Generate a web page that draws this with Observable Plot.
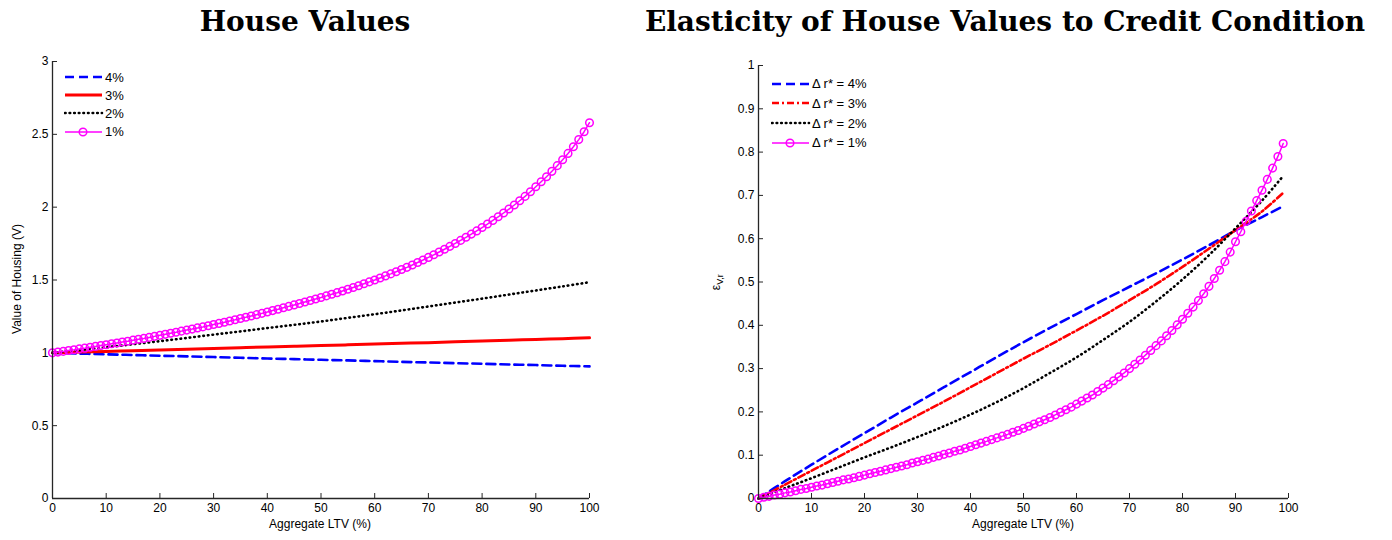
<!DOCTYPE html>
<html><head><meta charset="utf-8">
<script src="https://cdn.jsdelivr.net/npm/d3@7"></script>
<script src="https://cdn.jsdelivr.net/npm/@observablehq/plot@0.6"></script>
<style>
body{margin:0;background:#fff;width:1392px;height:540px;position:relative;overflow:hidden;font-family:"Liberation Sans",Arial,sans-serif;color:#000;}
.title{position:absolute;top:5px;font-family:"DejaVu Serif",serif;font-weight:bold;font-size:28px;white-space:nowrap;transform:translateX(-50%);}
.panel{position:absolute;top:45px;}
.lrow{position:absolute;display:flex;align-items:center;font-size:13px;white-space:nowrap;height:18px;}
.lrow svg{display:block;}
.xlab{position:absolute;top:517px;font-size:12px;transform:translateX(-50%);white-space:nowrap;}
.ylab{position:absolute;font-size:12px;white-space:nowrap;text-align:center;width:200px;transform:rotate(-90deg);}
</style>
</head><body>
<div id="root"></div>
<script>
// ---------- data ----------
const ltv5L = [0,5,10,15,20,25,30,35,40,45,50,55,60,65,70,75,80,85,90,95,100];
const ltv5R = [0,5,10,15,20,25,30,35,40,45,50,55,60,65,70,75,80,85,90,95,99];
const ltv1 = [0,1,2,3,4,5,6,7,8,9,10,11,12,13,14,15,16,17,18,19,20,21,22,23,24,25,26,27,28,29,30,31,32,33,34,35,36,37,38,39,40,41,42,43,44,45,46,47,48,49,50,51,52,53,54,55,56,57,58,59,60,61,62,63,64,65,66,67,68,69,70,71,72,73,74,75,76,77,78,79,80,81,82,83,84,85,86,87,88,89,90,91,92,93,94,95,96,97,98,99,100];

// House values (left panel)
const houseV4 = [1.000,0.995,0.990,0.985,0.980,0.976,0.971,0.966,0.961,0.957,0.952,0.948,0.943,0.938,0.934,0.929,0.925,0.920,0.916,0.911,0.907];
const houseV3 = [1.000,1.005,1.010,1.015,1.020,1.025,1.030,1.035,1.040,1.045,1.050,1.055,1.060,1.065,1.070,1.076,1.081,1.086,1.092,1.097,1.103];
const houseV2 = [1.000,1.019,1.038,1.059,1.080,1.102,1.125,1.147,1.170,1.192,1.215,1.240,1.265,1.291,1.318,1.345,1.372,1.400,1.428,1.456,1.485];
const houseV1 = [1.000,1.005,1.010,1.016,1.021,1.027,1.032,1.038,1.044,1.050,
1.056,1.062,1.068,1.074,1.080,1.087,1.093,1.099,1.106,1.113,
1.120,1.127,1.134,1.141,1.149,1.156,1.163,1.171,1.178,1.186,
1.194,1.202,1.210,1.219,1.227,1.236,1.244,1.253,1.262,1.271,
1.280,1.290,1.299,1.309,1.319,1.329,1.339,1.349,1.359,1.370,
1.380,1.391,1.402,1.413,1.425,1.437,1.449,1.461,1.474,1.487,
1.500,1.514,1.528,1.542,1.557,1.572,1.587,1.603,1.620,1.637,
1.655,1.673,1.692,1.711,1.731,1.751,1.772,1.793,1.815,1.837,
1.860,1.884,1.909,1.934,1.960,1.987,2.015,2.044,2.074,2.106,
2.140,2.174,2.209,2.246,2.285,2.326,2.369,2.415,2.464,2.518,
2.580];

// Elasticity (right panel)
const elast4 = [0,0.040,0.078,0.115,0.151,0.187,0.222,0.257,0.292,0.327,0.361,0.394,0.426,0.458,0.489,0.520,0.552,0.585,0.619,0.650,0.675];
const elast3 = [0,0.032,0.064,0.096,0.128,0.160,0.192,0.224,0.257,0.290,0.323,0.355,0.388,0.422,0.458,0.495,0.535,0.577,0.620,0.663,0.706];
const elast2 = [0,0.024,0.047,0.071,0.095,0.118,0.142,0.167,0.194,0.223,0.255,0.290,0.326,0.366,0.408,0.455,0.506,0.562,0.624,0.688,0.745];
const elast1 = [0.000,0.003,0.005,0.008,0.010,0.013,0.015,0.018,0.021,0.023,
0.026,0.029,0.031,0.034,0.037,0.040,0.043,0.045,0.048,0.051,
0.054,0.057,0.060,0.063,0.066,0.069,0.072,0.075,0.078,0.082,
0.085,0.088,0.091,0.095,0.098,0.102,0.105,0.109,0.112,0.116,
0.120,0.124,0.128,0.132,0.136,0.140,0.144,0.148,0.153,0.157,
0.162,0.167,0.172,0.177,0.182,0.187,0.193,0.199,0.205,0.211,
0.218,0.225,0.232,0.239,0.247,0.255,0.263,0.272,0.281,0.290,
0.300,0.310,0.320,0.331,0.342,0.353,0.364,0.376,0.388,0.401,
0.414,0.428,0.442,0.457,0.473,0.490,0.508,0.527,0.547,0.569,
0.593,0.616,0.640,0.664,0.688,0.712,0.737,0.763,0.790,0.820];

const xTicks = [0,10,20,30,40,50,60,70,80,90,100];
const yTicksL = [0,0.5,1,1.5,2,2.5,3];
const yTicksR = [0,0.1,0.2,0.3,0.4,0.5,0.6,0.7,0.8,0.9,1];

const titles = ["House Values", "Elasticity of House Values to Credit Condition"];
const xLabel = "Aggregate LTV (%)";
const yLabelL = "Value of Housing (V)";
const legendL = ["4%", "3%", "2%", "1%"];
const legendR = ["\u0394 r* = 4%", "\u0394 r* = 3%", "\u0394 r* = 2%", "\u0394 r* = 1%"];

// ---------- styles ----------
const sBlue = {stroke: "#0000ff", strokeWidth: 2.6, strokeDasharray: "9,5"};
const sRedSolid = {stroke: "#ff0000", strokeWidth: 3};
const sRedDashDot = {stroke: "#ff0000", strokeWidth: 2.6, strokeDasharray: "7,3,2,3"};
const sBlack = {stroke: "#000000", strokeWidth: 2.6, strokeDasharray: "0.6,4", strokeLinecap: "round"};
const sMag = {stroke: "#ff00ff", strokeWidth: 1.5};

const rows = (xs, ys) => xs.map((x, i) => ({x, y: ys[i]}));
const root = document.getElementById("root");
const fmt = d => String(d);
const axisColor = "#262626";

function panel({left, width, mL, mR, mT, mB, yDomain, yTicks, series}) {
  const H = 495;
  const frameH = H - mT - mB;
  const frameW = width - mL - mR;
  const p = Plot.plot({
    width, height: H, marginLeft: mL, marginRight: mR, marginTop: mT, marginBottom: mB,
    style: {fontFamily: "Liberation Sans, Arial, sans-serif", fontSize: "12px", color: "#000", background: "transparent", overflow: "visible"},
    x: {domain: [0, 100], ticks: xTicks, tickSize: 0, tickPadding: 5, tickFormat: fmt, label: null},
    y: {domain: yDomain, ticks: yTicks, tickSize: 0, tickPadding: 4, tickFormat: fmt, label: null},
    marks: [
      Plot.tickX(xTicks, {x: d => d, insetTop: frameH - 5, stroke: axisColor, strokeWidth: 1}),
      Plot.tickY(yTicks, {y: d => d, insetRight: frameW - 5, stroke: axisColor, strokeWidth: 1}),
      ...series,
      Plot.ruleX([0], {stroke: axisColor, strokeWidth: 1.3}),
      Plot.ruleY([yDomain[0]], {stroke: axisColor, strokeWidth: 1.3})
    ]
  });
  const d = document.createElement("div");
  d.className = "panel";
  d.style.left = left + "px";
  d.appendChild(p);
  root.appendChild(d);
}

const magL = rows(ltv1, houseV1);
panel({
  left: 0, width: 620, mL: 52, mR: 31, mT: 16, mB: 42, yDomain: [0, 3], yTicks: yTicksL,
  series: [
    Plot.line(rows(ltv5L, houseV4), {x: "x", y: "y", curve: "catmull-rom", ...sBlue}),
    Plot.line(rows(ltv5L, houseV3), {x: "x", y: "y", curve: "catmull-rom", ...sRedSolid}),
    Plot.line(rows(ltv5L, houseV2), {x: "x", y: "y", curve: "catmull-rom", ...sBlack}),
    Plot.line(magL, {x: "x", y: "y", ...sMag}),
    Plot.dot(magL, {x: "x", y: "y", r: 3.8, fill: "none", ...sMag})
  ]
});

const magR = rows(ltv1.slice(0, elast1.length), elast1);
panel({
  left: 690, width: 702, mL: 68, mR: 104, mT: 20, mB: 42, yDomain: [0, 1], yTicks: yTicksR,
  series: [
    Plot.line(rows(ltv5R, elast4), {x: "x", y: "y", curve: "catmull-rom", ...sBlue}),
    Plot.line(rows(ltv5R, elast3), {x: "x", y: "y", curve: "catmull-rom", ...sRedDashDot}),
    Plot.line(rows(ltv5R, elast2), {x: "x", y: "y", curve: "catmull-rom", ...sBlack}),
    Plot.line(magR, {x: "x", y: "y", ...sMag}),
    Plot.dot(magR, {x: "x", y: "y", r: 3.8, fill: "none", ...sMag})
  ]
});

// ---------- titles, labels ----------
function addDiv(cls, html, styles) {
  const d = document.createElement("div");
  d.className = cls;
  d.innerHTML = html;
  Object.assign(d.style, styles);
  root.appendChild(d);
  return d;
}
addDiv("title", titles[0], {left: "305px"});
addDiv("title", titles[1], {left: "1005px"});
addDiv("xlab", xLabel, {left: "320px"});
addDiv("xlab", xLabel, {left: "1023px"});
addDiv("ylab", yLabelL, {left: (17 - 100) + "px", top: (280 - 8) + "px"});
addDiv("ylab", "&epsilon;<sub style='font-size:9px'>V,r</sub>", {left: (717 - 100) + "px", top: (283 - 9) + "px"});

// ---------- legends ----------
function legend(x0, y0, dy, lineW, labels, styles) {
  labels.forEach((lab, i) => {
    const s = styles[i];
    const svg = d3.create("svg").attr("width", lineW + 3).attr("height", 18);
    svg.append("line").attr("x1", 1).attr("x2", lineW).attr("y1", 9).attr("y2", 9)
      .attr("stroke", s.stroke).attr("stroke-width", s.strokeWidth)
      .attr("stroke-linecap", s.strokeLinecap || null)
      .attr("stroke-dasharray", s.strokeDasharray || null);
    if (s.marker) svg.append("circle").attr("cx", lineW / 2).attr("cy", 9).attr("r", 3.8)
      .attr("fill", "none").attr("stroke", s.stroke).attr("stroke-width", 1.5);
    const row = document.createElement("div");
    row.className = "lrow";
    row.style.left = x0 + "px";
    row.style.top = (y0 + i * dy - 9) + "px";
    row.appendChild(svg.node());
    const t = document.createElement("span");
    t.textContent = lab;
    row.appendChild(t);
    root.appendChild(row);
  });
}
legend(64, 77, 18.2, 38, legendL, [sBlue, sRedSolid, sBlack, {...sMag, marker: true}]);
legend(771, 83.5, 19.8, 38, legendR, [sBlue, sRedDashDot, sBlack, {...sMag, marker: true}]);
</script>
</body></html>
